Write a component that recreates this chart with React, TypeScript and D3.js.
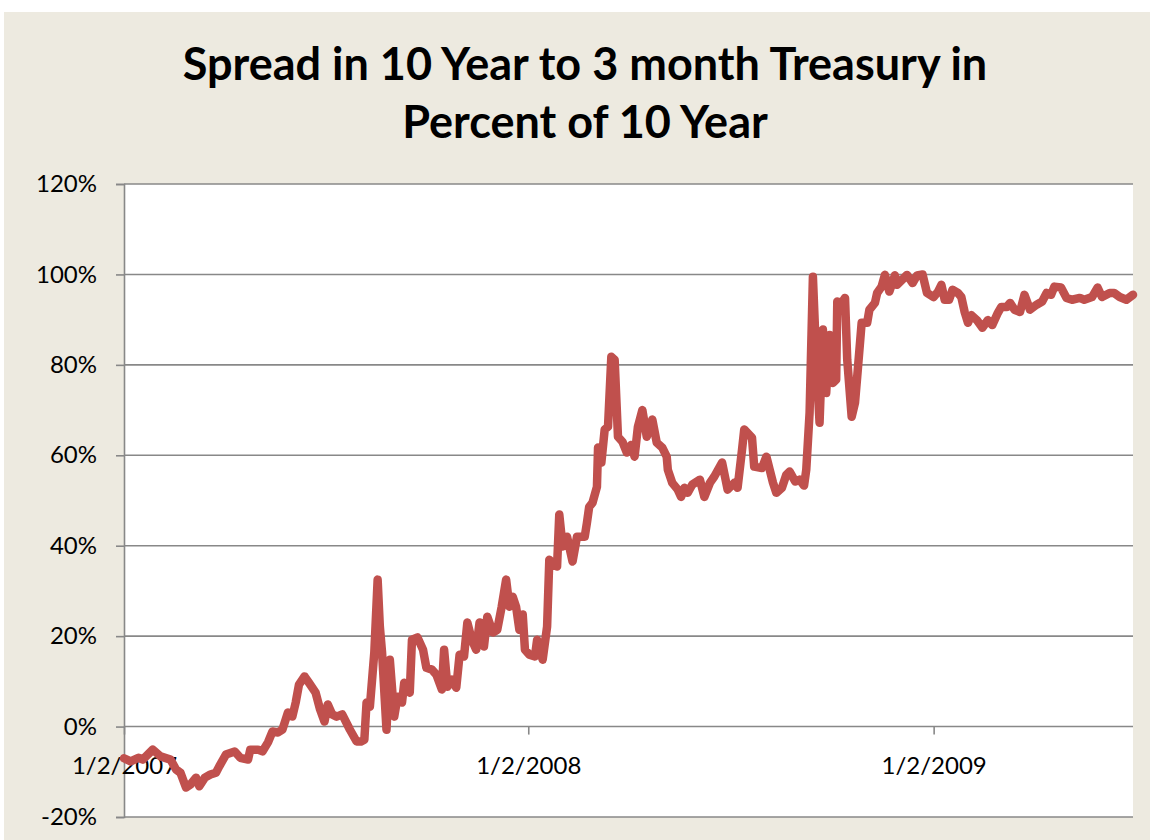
import React, { useEffect, useRef } from 'react';
import * as d3 from 'd3';

// spread (10y - 3m) as percent of 10y yield
const dates = [
  '2007-01-02', '2007-01-08', '2007-01-15', '2007-01-19', '2007-01-28', '2007-02-04', '2007-02-13', '2007-02-18',
  '2007-02-22', '2007-02-27', '2007-03-03', '2007-03-08', '2007-03-11', '2007-03-16', '2007-03-21', '2007-03-26',
  '2007-03-29', '2007-04-04', '2007-04-12', '2007-04-17', '2007-04-24', '2007-04-26', '2007-05-03', '2007-05-07',
  '2007-05-12', '2007-05-16', '2007-05-21', '2007-05-25', '2007-05-30', '2007-06-03', '2007-06-06', '2007-06-09',
  '2007-06-14', '2007-06-18', '2007-06-24', '2007-06-28', '2007-07-02', '2007-07-05', '2007-07-09', '2007-07-13',
  '2007-07-18', '2007-07-25', '2007-07-31', '2007-08-04', '2007-08-07', '2007-08-09', '2007-08-12', '2007-08-16',
  '2007-08-19', '2007-08-21', '2007-08-23', '2007-08-27', '2007-08-30', '2007-09-03', '2007-09-06', '2007-09-10',
  '2007-09-12', '2007-09-17', '2007-09-19', '2007-09-24', '2007-09-29', '2007-10-02', '2007-10-07', '2007-10-11',
  '2007-10-16', '2007-10-18', '2007-10-21', '2007-10-25', '2007-10-29', '2007-11-01', '2007-11-05', '2007-11-08',
  '2007-11-12', '2007-11-16', '2007-11-19', '2007-11-23', '2007-11-26', '2007-12-01', '2007-12-05', '2007-12-09',
  '2007-12-13', '2007-12-16', '2007-12-19', '2007-12-22', '2007-12-25', '2007-12-28', '2007-12-30', '2008-01-03',
  '2008-01-08', '2008-01-10', '2008-01-15', '2008-01-19', '2008-01-21', '2008-01-23', '2008-01-28', '2008-01-30',
  '2008-02-02', '2008-02-06', '2008-02-11', '2008-02-15', '2008-02-22', '2008-02-24', '2008-02-26', '2008-02-29',
  '2008-03-04', '2008-03-05', '2008-03-08', '2008-03-11', '2008-03-14', '2008-03-17', '2008-03-20', '2008-03-23',
  '2008-03-27', '2008-03-31', '2008-04-04', '2008-04-07', '2008-04-10', '2008-04-14', '2008-04-18', '2008-04-23',
  '2008-04-27', '2008-05-02', '2008-05-06', '2008-05-07', '2008-05-11', '2008-05-16', '2008-05-19', '2008-05-22',
  '2008-05-25', '2008-05-29', '2008-06-05', '2008-06-09', '2008-06-14', '2008-06-18', '2008-06-25', '2008-06-30',
  '2008-07-06', '2008-07-09', '2008-07-13', '2008-07-15', '2008-07-22', '2008-07-24', '2008-07-31', '2008-08-04',
  '2008-08-07', '2008-08-10', '2008-08-13', '2008-08-18', '2008-08-22', '2008-08-25', '2008-08-30', '2008-09-03',
  '2008-09-07', '2008-09-09', '2008-09-12', '2008-09-15', '2008-09-18', '2008-09-21', '2008-09-24', '2008-09-27',
  '2008-09-30', '2008-10-03', '2008-10-06', '2008-10-07', '2008-10-11', '2008-10-14', '2008-10-16', '2008-10-20',
  '2008-10-23', '2008-10-25', '2008-10-29', '2008-11-03', '2008-11-05', '2008-11-10', '2008-11-12', '2008-11-16',
  '2008-11-19', '2008-11-23', '2008-11-28', '2008-11-30', '2008-12-09', '2008-12-14', '2008-12-18', '2008-12-23',
  '2008-12-27', '2009-01-02', '2009-01-06', '2009-01-09', '2009-01-12', '2009-01-16', '2009-01-19', '2009-01-24',
  '2009-01-27', '2009-01-30', '2009-02-02', '2009-02-05', '2009-02-10', '2009-02-15', '2009-02-20', '2009-02-24',
  '2009-03-01', '2009-03-04', '2009-03-09', '2009-03-12', '2009-03-16', '2009-03-21', '2009-03-25', '2009-03-30',
  '2009-04-05', '2009-04-10', '2009-04-14', '2009-04-18', '2009-04-21', '2009-04-27', '2009-05-02', '2009-05-07',
  '2009-05-14', '2009-05-18', '2009-05-25', '2009-05-30', '2009-06-03', '2009-06-10', '2009-06-14', '2009-06-19',
  '2009-06-25', '2009-07-01',
];

const spread = [
  -7.0, -7.7, -6.9, -7.3, -5.1, -6.6, -7.3, -9.5,
  -10.2, -13.5, -12.8, -11.3, -13.2, -11.3, -10.6, -10.2,
  -8.8, -6.2, -5.5, -6.9, -7.3, -5.1, -5.1, -5.5,
  -3.5, -1.1, -1.3, -0.7, 3.1, 2.2, 5.3, 9.3,
  11.1, 9.7, 7.5, 3.8, 1.1, 4.9, 2.7, 2.2,
  2.7, -0.7, -3.3, -3.3, -2.9, 5.3, 4.4, 16.4,
  32.5, 22.1, 16.4, -0.7, 14.8, 2.2, 6.6, 5.3,
  9.7, 7.5, 19.2, 19.7, 17.0, 13.0, 12.6, 11.5,
  8.2, 17.0, 8.8, 10.4, 8.6, 15.9, 15.5, 23.0,
  19.2, 17.0, 23.0, 17.7, 24.3, 20.8, 21.4, 26.5,
  32.5, 26.5, 28.7, 26.5, 21.4, 24.8, 17.0, 15.9,
  15.5, 19.2, 14.8, 22.1, 36.9, 36.3, 35.4, 46.9,
  39.8, 42.0, 36.5, 42.0, 42.0, 45.1, 48.6, 49.5,
  53.0, 61.7, 58.4, 65.7, 66.3, 81.8, 81.1, 64.1,
  63.0, 60.6, 62.3, 59.7, 66.3, 70.0, 64.1, 67.9,
  62.8, 61.7, 59.7, 56.8, 53.9, 52.4, 50.8, 52.8,
  51.7, 53.5, 54.6, 50.8, 53.9, 55.3, 58.4, 52.4,
  53.9, 52.8, 61.2, 65.7, 63.9, 57.5, 57.2, 59.7,
  56.8, 53.9, 51.7, 52.8, 55.7, 56.4, 54.2, 54.6,
  53.3, 56.8, 69.4, 99.5, 81.1, 67.2, 87.8, 73.8,
  86.6, 76.0, 76.7, 94.0, 93.7, 94.8, 81.1, 68.5,
  71.6, 77.4, 89.3, 89.3, 92.2, 93.7, 95.9, 97.3,
  99.9, 96.2, 99.8, 97.7, 99.9, 98.1, 99.8, 100.0,
  95.9, 95.0, 96.2, 97.7, 94.4, 94.4, 96.6, 95.9,
  95.0, 91.7, 89.3, 91.0, 89.9, 88.2, 89.9, 88.8,
  91.5, 92.8, 92.8, 93.7, 92.2, 91.7, 95.5, 92.2,
  93.3, 94.0, 95.9, 95.5, 97.3, 97.1, 94.8, 94.4,
  94.8, 94.4, 95.0, 97.1, 95.0, 95.9, 95.9, 95.0,
  94.4, 95.5,
];

const yTicks = [-20, 0, 20, 40, 60, 80, 100, 120];
const xTickDates = ['2007-01-02', '2008-01-02', '2009-01-02'];
const titleLines = ['Spread in 10 Year to 3 month Treasury in', 'Percent of 10 Year'];

const App = () => {
  const svgRef = useRef<SVGSVGElement>(null);

  useEffect(() => {
    const width = 1150;
    const height = 840;
    const plot = { left: 124, right: 1133, top: 184, bottom: 817 };
    const parse = d3.timeParse('%Y-%m-%d');
    const data = dates.map((d, i) => ({ date: parse(d) as Date, value: spread[i] }));

    const svg = d3.select(svgRef.current);
    svg.selectAll('*').remove();

    // page + slide background
    svg.append('rect').attr('width', width).attr('height', height).attr('fill', '#ffffff');
    svg.append('rect')
      .attr('x', 4).attr('y', 12)
      .attr('width', width - 4).attr('height', height - 12)
      .attr('fill', '#EDEAE0');

    // plot area
    svg.append('rect')
      .attr('x', plot.left).attr('y', plot.top)
      .attr('width', plot.right - plot.left).attr('height', plot.bottom - plot.top)
      .attr('fill', '#ffffff');

    const xScale = d3.scaleTime()
      .domain([parse('2007-01-02') as Date, parse('2009-07-01') as Date])
      .range([plot.left, plot.right]);

    const yScale = d3.scaleLinear()
      .domain([-20, 120])
      .range([plot.bottom, plot.top]);

    const font = 'Lato, "Open Sans", sans-serif';

    // title
    svg.append('g')
      .selectAll('text')
      .data(titleLines)
      .enter()
      .append('text')
      .attr('x', 585)
      .attr('y', (d, i) => 80 + i * 58)
      .attr('text-anchor', 'middle')
      .attr('font-family', font)
      .attr('font-weight', 700)
      .attr('font-size', 45)
      .attr('fill', '#000')
      .text(d => d);

    // horizontal gridlines
    svg.append('g')
      .selectAll('line')
      .data(yTicks)
      .enter()
      .append('line')
      .attr('x1', plot.left)
      .attr('x2', plot.right)
      .attr('y1', d => yScale(d))
      .attr('y2', d => yScale(d))
      .attr('stroke', '#888888')
      .attr('stroke-width', 1.6);

    // y axis
    const yAxis = svg.append('g')
      .attr('transform', `translate(${plot.left},0)`)
      .call(d3.axisLeft(yScale).tickValues(yTicks).tickSize(8).tickPadding(19).tickFormat(d => `${d}%`));
    yAxis.select('.domain').attr('stroke', '#888888').attr('stroke-width', 1.6);
    yAxis.selectAll('.tick line').attr('stroke', '#888888').attr('stroke-width', 1.6);
    yAxis.selectAll('.tick text')
      .attr('font-family', font)
      .attr('font-size', 24)
      .attr('fill', '#000');

    // x axis sits on the 0% line
    const xAxis = svg.append('g')
      .attr('transform', `translate(0,${yScale(0)})`)
      .call(d3.axisBottom(xScale)
        .tickValues(xTickDates.map(d => parse(d) as Date))
        .tickSize(8)
        .tickPadding(22)
        .tickFormat(d => d3.timeFormat('%-m/%-d/%Y')(d as Date)));
    xAxis.select('.domain').remove();
    xAxis.selectAll('.tick line').attr('stroke', '#888888').attr('stroke-width', 1.6);
    xAxis.selectAll('.tick text')
      .attr('font-family', font)
      .attr('font-size', 24)
      .attr('fill', '#000');

    // series
    const line = d3.line<{ date: Date; value: number }>()
      .x(d => xScale(d.date))
      .y(d => yScale(d.value));

    svg.append('path')
      .datum(data)
      .attr('d', line)
      .attr('fill', 'none')
      .attr('stroke', '#C0504D')
      .attr('stroke-width', 8.5)
      .attr('stroke-linejoin', 'round')
      .attr('stroke-linecap', 'round');
  }, []);

  return (
    <svg
      ref={svgRef}
      width={1150}
      height={840}
      style={{ position: 'absolute', left: 0, top: 0, display: 'block' }}
    ></svg>
  );
};

export default App;
